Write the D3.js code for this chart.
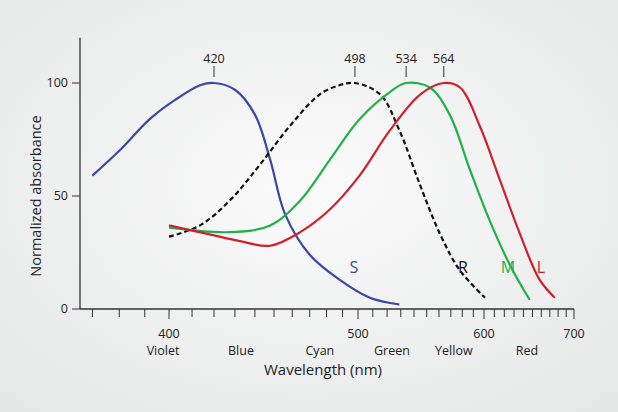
<!DOCTYPE html>
<html><head><meta charset="utf-8">
<script src="https://cdn.jsdelivr.net/npm/d3@7"></script>
<style>body{margin:0;background:#eff0f0;font-family:"Open Sans",sans-serif}</style>
</head><body><svg id="c" width="618" height="412"></svg>
<script>
const sWl=[370,380,392,402.6,413.6,420,430,440,448,456,470,488,508,529];
const sVal=[59,70,84,92.5,99,100,97,86,66,42,24,13,5,2];
const rWl=[400,413.6,427.5,442.7,458.7,476,488,498,515,529,544.6,561,578,601];
const rVal=[32,37,48,64,81,95,99,100,95,79,55,33,17,5];
const mWl=[400,427.5,448,464.5,482,501,522,534,552.5,569,587,605.6,625.7,647];
const mVal=[36,34,37,48,66,84,96,100,98,86,61.5,39,19.5,4];
const lWl=[400,418,432.5,448,464.5,482,501,522,545,564,578,596,615.6,636.5,658,676];
const lVal=[37,33,30,28,34,44,59,79,95,100,98,81,57,33,13,5];
const peaks=[420,498,534,564];
const xTickLabels=[400,500,600,700];
const yTickLabels=[0,50,100];
const colorNames=["Violet","Blue","Cyan","Green","Yellow","Red"];
const colorWl=[397.5,433,476,523.5,572.6,644];
const seriesNames=["S","R","M","L"];

const svg=d3.select("#c");
const defs=svg.append("defs");
const g=defs.append("radialGradient").attr("id","bg").attr("cx","50%").attr("cy","45%").attr("r","70%");
g.append("stop").attr("offset","0%").attr("stop-color","#fbfbfb");
g.append("stop").attr("offset","100%").attr("stop-color","#e6e7e7");
svg.append("rect").attr("width",618).attr("height",412).attr("fill","url(#bg)");

const k=378000;
const xr=d3.scaleLinear().domain([1/400,1/700]).range([169,169+k*(1/400-1/700)]);
const x=l=>xr(1/l);
const y=d3.scaleLinear().domain([0,100]).range([309,83]);
const y0=y(0), yTop=y(120);

svg.append("line").attr("x1",80).attr("x2",80).attr("y1",yTop).attr("y2",y0).attr("stroke","#333").attr("stroke-width",1.3);
svg.append("line").attr("x1",80).attr("x2",x(700)).attr("y1",y0).attr("y2",y0).attr("stroke","#333").attr("stroke-width",1.3);
for(let l=370;l<=700;l+=10){
  svg.append("line").attr("x1",x(l)).attr("x2",x(l)).attr("y1",y0).attr("y2",y0+(l%100===0?10:8)).attr("stroke","#333").attr("stroke-width",1);
}
xTickLabels.forEach(l=>svg.append("text").attr("x",x(l)).attr("y",y0+29).attr("text-anchor","middle").attr("font-size",12.5).attr("fill","#222").text(l));
yTickLabels.forEach(v=>{
  svg.append("line").attr("x1",72).attr("x2",80).attr("y1",y(v)).attr("y2",y(v)).attr("stroke","#333");
  svg.append("text").attr("x",68).attr("y",y(v)+4).attr("text-anchor","end").attr("font-size",12.5).attr("fill","#222").text(v);
});
colorNames.forEach((n,i)=>svg.append("text").attr("x",x(colorWl[i])).attr("y",y0+46).attr("text-anchor","middle").attr("font-size",12.5).attr("fill","#222").text(n));
svg.append("text").attr("x",323).attr("y",y0+66).attr("text-anchor","middle").attr("font-size",15).attr("fill","#222").text("Wavelength (nm)");
svg.append("text").attr("transform","translate(41,196) rotate(-90)").attr("text-anchor","middle").attr("font-size",14.5).attr("fill","#222").text("Normalized absorbance");

const line=d3.line().x(d=>x(d[0])).y(d=>y(d[1])).curve(d3.curveCatmullRom);
const series=[[sWl,sVal,"#3a48a8",null],[rWl,rVal,"#111","5,3"],[mWl,mVal,"#22b04b",null],[lWl,lVal,"#cf2030",null]];
series.forEach(([w,v,c,dash])=>{
  svg.append("path").attr("d",line(w.map((l,i)=>[l,v[i]]))).attr("fill","none").attr("stroke",c).attr("stroke-width",2.2).attr("stroke-dasharray",dash);
});
const labX=[354,463,508,541];
seriesNames.forEach((n,i)=>svg.append("text").attr("x",labX[i]).attr("y",273).attr("text-anchor","middle").attr("font-size",16).attr("fill",series[i][2]).text(n));
peaks.forEach(p=>{
  svg.append("line").attr("x1",x(p)).attr("x2",x(p)).attr("y1",66).attr("y2",77).attr("stroke","#333");
  svg.append("text").attr("x",x(p)).attr("y",63).attr("text-anchor","middle").attr("font-size",12.5).attr("fill","#222").text(p);
});
</script></body></html>
